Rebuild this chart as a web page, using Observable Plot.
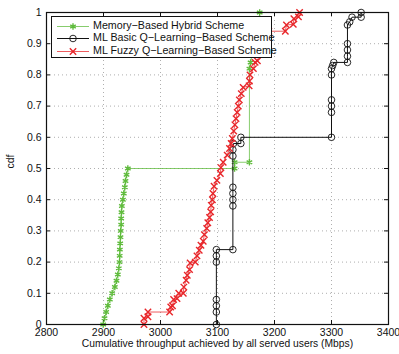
<!DOCTYPE html>
<html>
<head>
<meta charset="utf-8">
<script src="https://cdn.jsdelivr.net/npm/d3@7"></script>
<script src="https://cdn.jsdelivr.net/npm/@observablehq/plot@0.6"></script>
<style>
  html, body { margin: 0; padding: 0; background: #fff; }
  #wrap { position: relative; width: 399px; height: 354px; font-family: "Liberation Sans", Arial, sans-serif; }
  #legend { position: absolute; left: 51px; top: 16px; width: 221px; height: 42px; box-sizing: border-box;
            border: 1.3px solid #111; background: #fff; }
  .row { position: absolute; left: 0; height: 13px; width: 220px; }
  .row svg { position: absolute; left: 4px; top: 0; }
  .row span { position: absolute; left: 41px; top: -1px; font-size: 10.7px; line-height: 13px; color: #111; white-space: nowrap; }
</style>
</head>
<body>
<div id="wrap"></div>
<script>
// ---- data ----
const seriesNames = ["Memory\u2212Based Hybrid Scheme", "ML Basic Q\u2212Learning\u2212Based Scheme", "ML Fuzzy Q\u2212Learning\u2212Based Scheme"];
const seriesColors = ["#5fbb3c", "#111111", "#e8262a"];
const seriesSymbols = ["asterisk", "circle", "times"];

const greenX = [2899.5, 2901.8, 2904.7, 2907.6, 2911.1, 2915.2, 2919.9, 2922.8, 2925.1, 2926.9, 2928.1, 2928.4, 2928.7, 2929.3, 2929.8, 2930.2, 2931.0, 2931.0, 2931.6, 2932.2, 2934.0, 2935.6, 2937.4, 2938.6, 2940.4, 2942.7, 3130, 3130, 3156, 3156, 3158, 3162, 3172, 3174];
const greenY = [0, 0.02, 0.04, 0.06, 0.08, 0.10, 0.12, 0.14, 0.16, 0.18, 0.20, 0.22, 0.24, 0.26, 0.28, 0.30, 0.32, 0.34, 0.36, 0.38, 0.40, 0.42, 0.44, 0.46, 0.48, 0.50, 0.50, 0.52, 0.52, 0.82, 0.84, 0.88, 0.96, 1.0];

const blackX = [3098, 3098, 3098, 3098, 3098, 3098, 3098, 3127, 3127, 3127, 3127, 3127, 3127, 3127, 3128, 3141, 3141, 3300, 3300, 3300, 3300, 3300, 3300, 3302, 3304, 3328, 3328, 3328, 3328, 3328, 3332, 3336, 3352, 3352];
const blackY = [0, 0.04, 0.06, 0.08, 0.20, 0.22, 0.24, 0.24, 0.38, 0.40, 0.42, 0.44, 0.54, 0.56, 0.58, 0.58, 0.60, 0.60, 0.68, 0.70, 0.72, 0.80, 0.82, 0.83, 0.84, 0.84, 0.86, 0.88, 0.90, 0.96, 0.97, 0.985, 0.985, 1.0];

const redX = [2971, 2971, 2978, 2978, 3016, 3018, 3021, 3023, 3029, 3032, 3040, 3041, 3045, 3047, 3051, 3052, 3061, 3064, 3068, 3071, 3075, 3077, 3081, 3083, 3086, 3088, 3089, 3091, 3092, 3094, 3099, 3105, 3106, 3110, 3117, 3121, 3124, 3126, 3128.5, 3130.5, 3132.5, 3134.5, 3136.5, 3138.3, 3141.7, 3145, 3155.5, 3156, 3157, 3163, 3166, 3170, 3175, 3180, 3185, 3190, 3219, 3221, 3233, 3234, 3242, 3244];
const redY = [0, 0.02, 0.025, 0.04, 0.04, 0.056, 0.06, 0.08, 0.083, 0.10, 0.10, 0.12, 0.142, 0.158, 0.176, 0.197, 0.20, 0.22, 0.238, 0.254, 0.267, 0.288, 0.308, 0.326, 0.343, 0.361, 0.382, 0.40, 0.42, 0.443, 0.462, 0.484, 0.503, 0.52, 0.543, 0.564, 0.58, 0.596, 0.62, 0.64, 0.66, 0.68, 0.70, 0.72, 0.74, 0.76, 0.765, 0.78, 0.80, 0.82, 0.84, 0.845, 0.87, 0.90, 0.92, 0.94, 0.94, 0.96, 0.962, 0.98, 0.986, 1.0];

const xTicks = [2800, 2900, 3000, 3100, 3200, 3300, 3400];
const xTickLabels = ["2800", "2900", "3000", "3100", "3200", "3300", "3400"];
const yTicks = [0, 0.1, 0.2, 0.3, 0.4, 0.5, 0.6, 0.7, 0.8, 0.9, 1];
const yTickLabels = ["0", "0.1", "0.2", "0.3", "0.4", "0.5", "0.6", "0.7", "0.8", "0.9", "1"];
const xLabel = "Cumulative throughput achieved by all served users (Mbps)";
const yLabel = "cdf";

// ---- build ----
const zip = (xs, ys) => xs.map((x, i) => ({x, y: ys[i]}));
const series = [zip(greenX, greenY), zip(blackX, blackY), zip(redX, redY)];

const W = 399, H = 354, mL = 46, mR = 11, mT = 12, mB = 30;
const fh = H - mT - mB, fw = W - mL - mR, tk = 4;

const marks = [
  Plot.gridX(xTicks, {stroke: "#9a9a9a", strokeOpacity: 1, strokeDasharray: "1,3", strokeWidth: 0.8}),
  Plot.gridY(yTicks, {stroke: "#9a9a9a", strokeOpacity: 1, strokeDasharray: "1,3", strokeWidth: 0.8}),
  Plot.ruleX(xTicks, {insetTop: fh - tk, stroke: "#111"}),
  Plot.ruleX(xTicks, {insetBottom: fh - tk, stroke: "#111"}),
  Plot.ruleY(yTicks, {insetRight: fw - tk, stroke: "#111"}),
  Plot.ruleY(yTicks, {insetLeft: fw - tk, stroke: "#111"}),
  Plot.axisX(xTicks, {tickSize: 0, tickPadding: 4, label: null, fontSize: 10.5, fill: "#111", tickFormat: (d, i) => xTickLabels[i]}),
  Plot.axisY(yTicks, {tickSize: 0, tickPadding: 5, label: null, fontSize: 10.5, fill: "#111", tickFormat: (d, i) => yTickLabels[i]}),
];
series.forEach((data, i) => {
  marks.push(Plot.line(data, {x: "x", y: "y", stroke: seriesColors[i], strokeWidth: 1, strokeOpacity: i === 1 ? 1 : 0.75}));
  marks.push(Plot.dot(data, {x: "x", y: "y", symbol: () => seriesSymbols[i], stroke: seriesColors[i], fill: "none", r: i === 1 ? 3.3 : 3, strokeWidth: i === 1 ? 0.9 : 1.4}));
});
marks.push(Plot.frame({stroke: "#111", strokeWidth: 1.2}));
marks.push(Plot.text([xLabel], {frameAnchor: "bottom", dy: 22, text: d => d, fontSize: 10.3, fill: "#111"}));
marks.push(Plot.text([yLabel], {frameAnchor: "left", dx: -36, rotate: -90, text: d => d, fontSize: 10.5, fill: "#111"}));

const chart = Plot.plot({
  width: W, height: H,
  marginLeft: mL, marginRight: mR, marginTop: mT, marginBottom: mB,
  style: {fontFamily: '"Liberation Sans", Arial, sans-serif', background: "#fff", color: "#111"},
  x: {domain: [2800, 3400]},
  y: {domain: [0, 1]},
  marks
});
const wrap = document.getElementById("wrap");
wrap.appendChild(chart);

// ---- legend (HTML overlay above the plot) ----
const legend = document.createElement("div");
legend.id = "legend";
const rowTops = [2.5, 15.2, 28.2];
const d3Symbols = [d3.symbolAsterisk, d3.symbolCircle, d3.symbolTimes];
seriesNames.forEach((name, i) => {
  const row = document.createElement("div");
  row.className = "row";
  row.style.top = rowTops[i] + "px";
  const svg = d3.create("svg").attr("width", 36).attr("height", 13);
  svg.append("line").attr("x1", 1).attr("x2", 33).attr("y1", 6.5).attr("y2", 6.5)
    .attr("stroke", seriesColors[i]).attr("stroke-width", 1).attr("stroke-opacity", i === 1 ? 1 : 0.75);
  svg.append("path")
    .attr("transform", "translate(17,6.5)")
    .attr("d", d3.symbol(d3Symbols[i], i === 1 ? Math.PI * 3.3 * 3.3 : 28)())
    .attr("fill", "none").attr("stroke", seriesColors[i]).attr("stroke-width", i === 1 ? 0.9 : 1.4);
  row.appendChild(svg.node());
  const span = document.createElement("span");
  span.textContent = name;
  row.appendChild(span);
  legend.appendChild(row);
});
wrap.appendChild(legend);
</script>
</body>
</html>
